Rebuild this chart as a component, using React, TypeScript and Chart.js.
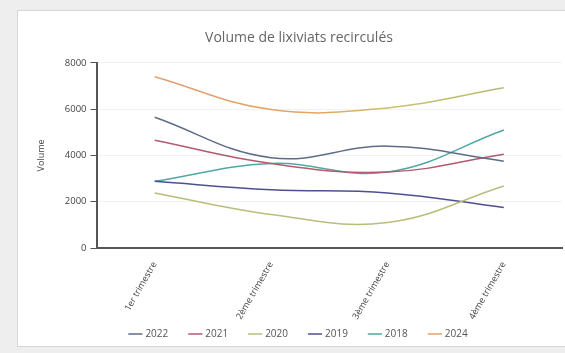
import React, { useEffect, useRef } from "react";
import { Chart, registerables } from "chart.js";

Chart.register(...registerables);

const categories = ["1er trimestre", "2ème trimestre", "3ème trimestre", "4ème trimestre"];
const years = ["2022", "2021", "2020", "2019", "2018", "2024"];
const v2022 = [5650, 3900, 4400, 3750];
const v2021 = [4650, 3650, 3280, 4050];
const v2020 = [2380, 1450, 1100, 2680];
const v2019 = [2880, 2520, 2380, 1750];
const v2018 = [2880, 3650, 3280, 5100];
const v2024 = [7400, 5980, 6050, 6920];
const yTicks = [0, 2000, 4000, 6000, 8000];

const colors = ["#5e6c88", "#b35a6c", "#b9bd7c", "#4d5090", "#4fa8a6", "#e2a36a"];

const unclipLabels = {
  id: "unclipLabels",
  afterLayout(chart: any) {
    const x = chart.scales.x;
    if (x) x.bottom = chart.height;
  },
};

export default function App() {
  const ref = useRef<HTMLCanvasElement | null>(null);
  useEffect(() => {
    const canvas = ref.current!;
    const series = [v2022, v2021, v2020, v2019, v2018, v2024];
    const chart = new Chart(canvas, {
      type: "line",
      data: {
        labels: categories,
        datasets: years.map((y, i) => ({
          label: y,
          data: series[i],
          borderColor:
            y === "2024"
              ? (ctx: any) => {
                  const area = ctx.chart.chartArea;
                  if (!area) return colors[i];
                  const g = ctx.chart.ctx.createLinearGradient(area.left, 0, area.right, 0);
                  g.addColorStop(0, "#e09a80");
                  g.addColorStop(0.45, "#e6a45c");
                  g.addColorStop(0.65, "#c9c070");
                  g.addColorStop(1, "#a9b878");
                  return g;
                }
              : colors[i],
          backgroundColor: colors[i],
          borderWidth: 1.5,
          pointRadius: 0,
          tension: 0.4,
          fill: false,
        })),
      },
      plugins: [unclipLabels],
      options: {
        animation: false,
        responsive: false,
        layout: { padding: { left: 16, right: 12, top: 4, bottom: 0 } },
        plugins: {
          title: {
            display: true,
            text: "Volume de lixiviats recirculés",
            color: "#666",
            font: { family: "Open Sans", size: 14, weight: "normal" },
            padding: { top: 14, bottom: 16 },
          },
          legend: {
            position: "bottom",
            labels: {
              usePointStyle: true,
              pointStyle: "line",
              boxWidth: 12,
              color: "#555",
              font: { family: "Open Sans", size: 10 },
              padding: 22,
              generateLabels: (c: any) => {
                const base = Chart.defaults.plugins.legend.labels.generateLabels(c);
                return base.map((l: any, i: number) => ({
                  ...l,
                  strokeStyle: colors[i],
                  fillStyle: colors[i],
                }));
              },
            },
          },
          tooltip: { enabled: false },
        },
        scales: {
          x: {
            offset: true,
            grid: { display: false, drawTicks: true, color: "#555" },
            border: { color: "#555", width: 2 },
            ticks: {
              maxRotation: 60,
              minRotation: 60,
              color: "#444",
              padding: 4,
              font: { family: "Open Sans", size: 9 },
            },
            afterFit: (scale: any) => {
              scale.height = 59;
            },
          },
          y: {
            min: 0,
            max: 8000,
            afterBuildTicks: (axis: any) => {
              axis.ticks = yTicks.map((v) => ({ value: v }));
            },
            grid: {
              color: "rgba(0,0,0,0.05)",
              tickColor: "#555",
              tickLength: 6,
            },
            border: { color: "#555", width: 2 },
            ticks: {
              color: "#444",
              font: { family: "Open Sans", size: 9.5 },
              padding: 4,
              callback: (v: any) => String(v),
            },
            title: {
              display: true,
              text: "Volume",
              color: "#444",
              font: { family: "Open Sans", size: 9 },
              padding: { top: 0, bottom: 14 },
            },
          },
        },
      },
    });
    return () => chart.destroy();
  }, []);
  return (
    <div
      style={{
        position: "fixed",
        left: 0,
        top: 0,
        width: 565,
        height: 353,
        background: "#eeeeee",
        overflow: "hidden",
      }}
    >
      <div
        style={{
          position: "absolute",
          left: 17,
          top: 10,
          width: 600,
          height: 335,
          background: "#fff",
          border: "1px solid #d6d6d6",
          overflow: "hidden",
        }}
      >
        <canvas ref={ref} width={554} height={337} style={{ position: "absolute", left: 2, top: 1 }} />
      </div>
    </div>
  );
}
